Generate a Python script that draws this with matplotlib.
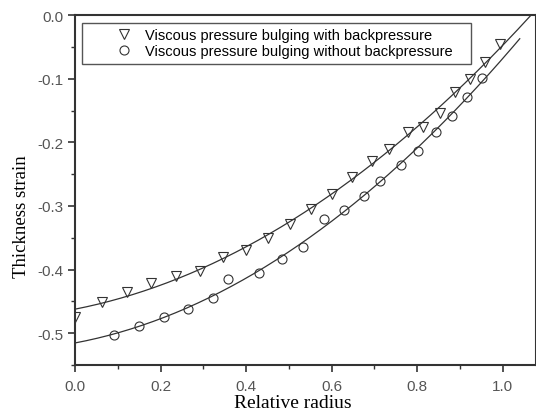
import numpy as np
import matplotlib.pyplot as plt
from matplotlib.ticker import MultipleLocator

# measured points, with backpressure (triangles)
r_with = [0.0, 0.062, 0.121, 0.178, 0.236, 0.292, 0.347, 0.400, 0.452, 0.503,
          0.551, 0.600, 0.647, 0.694, 0.735, 0.779, 0.814, 0.853, 0.888, 0.924,
          0.959, 0.994]
e_with = [-0.474, -0.451, -0.435, -0.421, -0.410, -0.403, -0.380, -0.370, -0.350, -0.328,
          -0.305, -0.281, -0.254, -0.230, -0.210, -0.183, -0.176, -0.154, -0.121, -0.100,
          -0.074, -0.046]

# measured points, without backpressure (circles)
r_without = [0.092, 0.150, 0.207, 0.265, 0.323, 0.357, 0.431, 0.483, 0.532, 0.582,
             0.629, 0.676, 0.714, 0.762, 0.803, 0.844, 0.882, 0.916, 0.951]
e_without = [-0.503, -0.489, -0.475, -0.462, -0.444, -0.415, -0.405, -0.383, -0.365, -0.321,
             -0.307, -0.285, -0.261, -0.235, -0.213, -0.183, -0.158, -0.128, -0.099]

# extent of the fitted curves
fit_end_with = 1.067
fit_end_without = 1.04

label_with = 'Viscous pressure bulging with backpressure'
label_without = 'Viscous pressure bulging without backpressure'

plt.rcParams['axes.unicode_minus'] = False

fig = plt.figure(figsize=(5.36, 4.14), dpi=100)
ax = fig.add_axes([0.14, 0.116, 0.86, 0.845])

c = '#333333'
for r, e, end in [(r_with, e_with, fit_end_with), (r_without, e_without, fit_end_without)]:
    p = np.polyfit(r, e, 2)
    xs = np.linspace(0, end, 200)
    ax.plot(xs, np.polyval(p, xs), color=c, linewidth=0.9)

ax.plot(r_with, e_with, linestyle='none', marker='v', markersize=7,
        markerfacecolor='none', markeredgecolor=c, markeredgewidth=0.8, label=label_with)
ax.plot(r_without, e_without, linestyle='none', marker='o', markersize=6.5,
        markerfacecolor='none', markeredgecolor=c, markeredgewidth=0.8, label=label_without)

ax.set_xlim(0, 1.078)
ax.set_ylim(-0.55, 0.0)
ax.xaxis.set_major_locator(MultipleLocator(0.2))
ax.xaxis.set_minor_locator(MultipleLocator(0.1))
ax.yaxis.set_major_locator(MultipleLocator(0.1))
ax.yaxis.set_minor_locator(MultipleLocator(0.05))
ax.tick_params(which='major', direction='out', length=5, width=1.2, labelsize=11,
               colors='#333333', top=False, right=False)
ax.tick_params(axis='x', which='major', pad=5)
ax.tick_params(which='minor', direction='out', length=2.7, width=1.0,
               top=False, right=False, colors='#333333')
for lab in ax.get_xticklabels() + ax.get_yticklabels():
    lab.set_family('Liberation Sans')
    lab.set_color('#555555')

for s in ax.spines.values():
    s.set_linewidth(1.5)
    s.set_color('#333333')

ax.set_xlabel('Relative radius', family='Liberation Serif', fontsize=14)
ax.set_ylabel('Thickness strain', family='Liberation Serif', fontsize=13.5)
ax.xaxis.set_label_coords(0.472, -0.084)
ax.yaxis.set_label_coords(-0.097, 0.426)

leg = ax.legend(loc='upper left', bbox_to_anchor=(0.0152, 0.977 - 0.12, 0.844, 0.12),
                mode='expand', fancybox=False, edgecolor='#555555', framealpha=1,
                prop={'family': 'Liberation Sans', 'size': 10.5},
                handlelength=5.07, handletextpad=-1.1, borderpad=0.35, labelspacing=0.15,
                borderaxespad=0)
leg.get_frame().set_linewidth(1.0)

fig.savefig('out.png', dpi=100)
